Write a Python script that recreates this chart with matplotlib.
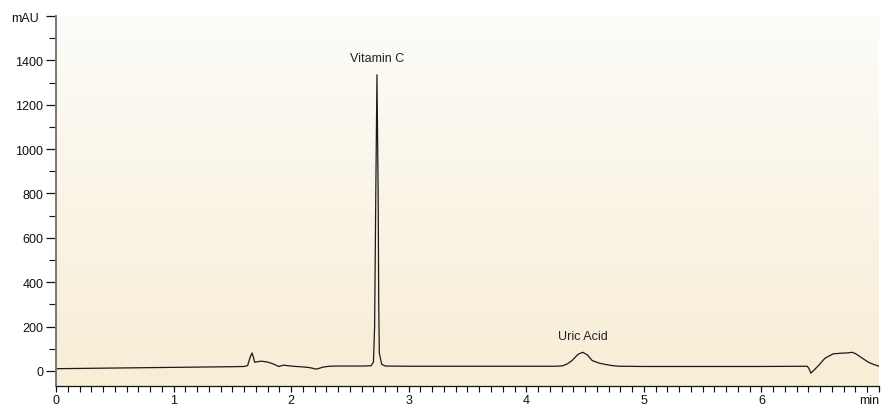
import numpy as np
import matplotlib.pyplot as plt
from matplotlib.ticker import MultipleLocator, FixedLocator, FixedFormatter

plt.rcParams['font.family'] = ['Liberation Sans', 'DejaVu Sans']

# retention time (min) and detector signal (mAU)
time_min = [0.00, 0.50, 1.00, 1.50, 1.60, 1.63, 1.65, 1.667, 1.68, 1.69,
            1.72, 1.745, 1.80, 1.845, 1.87, 1.896, 1.935, 1.98, 2.04, 2.10,
            2.156, 2.19, 2.207, 2.24, 2.27, 2.325, 2.40, 2.60, 2.68, 2.70,
            2.71, 2.72, 2.73, 2.74, 2.745, 2.75, 2.77, 2.80, 3.00, 3.50,
            4.00, 4.25, 4.31, 4.35, 4.39, 4.44, 4.48, 4.52, 4.56, 4.62,
            4.675, 4.73, 4.79, 5.00, 6.00, 6.39, 6.405, 6.42, 6.45, 6.485,
            6.54, 6.61, 6.68, 6.73, 6.77, 6.80, 6.84, 6.91, 6.95, 7.00]
signal_mau = [10, 13, 16, 19, 20, 24, 60, 81, 60, 39,
              42, 44, 40, 32, 26, 20, 26, 23, 20, 18,
              15, 11, 8, 12, 17, 21, 22, 22, 23, 40,
              200, 800, 1335, 800, 300, 80, 30, 22, 21, 21,
              21, 21, 23, 32, 47, 75, 84, 72, 47, 35,
              29, 24, 21, 20, 20, 21, 10, -10, 5, 24,
              57, 77, 80, 81, 84, 78, 64, 39, 30, 21]

peak_names = ['Vitamin C', 'Uric Acid']
peak_times = [2.73, 4.48]
peak_heights = [1335, 84]

x_ticks = [0, 1, 2, 3, 4, 5, 6, 7]
x_labels = ['0', '1', '2', '3', '4', '5', '6', 'min']
y_ticks = [0, 200, 400, 600, 800, 1000, 1200, 1400, 1600]
y_labels = ['0', '200', '400', '600', '800', '1000', '1200', '1400', 'mAU']

fig = plt.figure(figsize=(8.87, 4.06), dpi=100)
ax = fig.add_axes([56/887, 19/406, 823/887, 370/406])

xlim = (0, 7)
ylim = (-68, 1600)
ax.set_xlim(*xlim)
ax.set_ylim(*ylim)

# vertical cream gradient behind the trace
top = np.array([253, 252, 249]) / 255
bottom = np.array([248, 237, 213]) / 255
grad = np.linspace(0, 1, 256)[:, None, None]
img = top * (1 - grad) + bottom * grad
ax.imshow(img, extent=[xlim[0], xlim[1], ylim[0], ylim[1]],
          aspect='auto', origin='upper', zorder=0)

ax.plot(time_min, signal_mau, color='#1a1a1a', lw=0.9, zorder=2)

for name, t, h in zip(peak_names, peak_times, peak_heights):
    ax.annotate(name, (t, h), xytext=(0, 7.5), textcoords='offset points',
                ha='center', va='bottom', fontsize=9, color='#222222')

for s in ['top', 'right']:
    ax.spines[s].set_visible(False)
ax.spines['left'].set_color('#777777')
ax.spines['left'].set_linewidth(1.4)
ax.spines['bottom'].set_color('#111111')
ax.spines['bottom'].set_linewidth(0.9)

ax.xaxis.set_major_locator(FixedLocator(x_ticks))
ax.xaxis.set_major_formatter(FixedFormatter(x_labels))
ax.xaxis.set_minor_locator(MultipleLocator(0.1))
ax.yaxis.set_major_locator(FixedLocator(y_ticks))
ax.yaxis.set_major_formatter(FixedFormatter(y_labels))
ax.yaxis.set_minor_locator(MultipleLocator(100))

ax.tick_params(axis='x', which='major', length=4, width=0.9, pad=2,
               labelsize=9, colors='#111111')
ax.tick_params(axis='x', which='minor', length=4, width=0.8, colors='#111111')
ax.tick_params(axis='y', which='major', length=7, width=0.9, pad=2,
               labelsize=9, colors='#111111')
ax.tick_params(axis='y', which='minor', length=5, width=0.8, colors='#111111')

# unit labels sit at the axis ends
xt = ax.get_xticklabels()
xt[-1].set_ha('right')
yt = ax.get_yticklabels()
yt[-1].set_x(-0.006)

fig.savefig('out.png', dpi=100)
